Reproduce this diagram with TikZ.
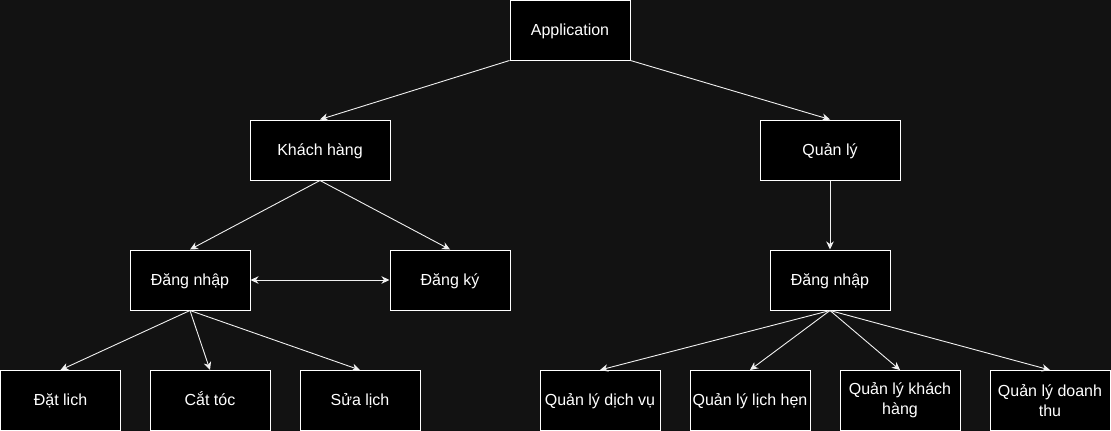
\documentclass[tikz,border=0pt]{standalone}
\usepackage{fontspec}
\setmainfont{Liberation Sans}
\usetikzlibrary{arrows.meta}
\definecolor{bgc}{HTML}{121212}
\definecolor{linec}{HTML}{F0F0F0}
\begin{document}
\begin{tikzpicture}[x=1pt,y=-1pt,
  box/.style={draw=white,fill=black,line width=1pt,minimum width=120pt,minimum height=60pt,
    inner sep=0pt,align=center,text=white,font=\fontsize{16}{20}\selectfont},
  one/.style={text height=14pt,text depth=4pt},
  conn/.style={draw=linec,line width=0.9pt,-{Stealth[length=8pt,width=7.5pt,inset=2.5pt]}},
  conn2/.style={draw=linec,line width=0.9pt,{Stealth[length=8pt,width=7.5pt,inset=2.5pt]}-{Stealth[length=8pt,width=7.5pt,inset=2.5pt]}}]
\fill[bgc] (0,0) rectangle (1111,431);
\useasboundingbox (0,0) rectangle (1111,431);
\node[box,one] (app) at (570,30) {Application};
\node[box,one,minimum width=140pt] (kh) at (320,150) {Khách hàng};
\node[box,one,minimum width=140pt] (ql) at (830,150) {Quản lý};
\node[box,one] (dn1) at (190,280) {Đăng nhập};
\node[box,one] (dk) at (450,280) {Đăng ký};
\node[box,one] (dn2) at (830,280) {Đăng nhập};
\node[box,one] (b1) at (60.5,400.5) {Đặt lich};
\node[box,one] (b2) at (210,400.5) {Cắt tóc};
\node[box,one] (b3) at (360,400.5) {Sửa lịch};
\node[box,one] (c1) at (600,400.5) {Quản lý dịch vụ};
\node[box,one] (c2) at (750,400.5) {Quản lý lịch hẹn};
\node[box] (c3) at (900,400.5) {Quản lý khách\\hàng};
\node[box] (c4) at (1050,400.5) {Quản lý doanh\\thu};
\draw[conn] (app.south west) -- (kh.north);
\draw[conn] (app.south east) -- (ql.north);
\draw[conn] (ql.south) -- (dn2.north);
\draw[conn] (kh.south) -- (dn1.north);
\draw[conn] (kh.south) -- (dk.north);
\draw[conn2] (dn1.east) -- (dk.west);
\draw[conn] (dn1.south) -- (b1.north);
\draw[conn] (dn1.south) -- (b2.north);
\draw[conn] (dn1.south) -- (b3.north);
\draw[conn] (dn2.south) -- (c1.north);
\draw[conn] (dn2.south) -- (c2.north);
\draw[conn] (dn2.south) -- (c3.north);
\draw[conn] (dn2.south) -- (c4.north);
\end{tikzpicture}
\end{document}
